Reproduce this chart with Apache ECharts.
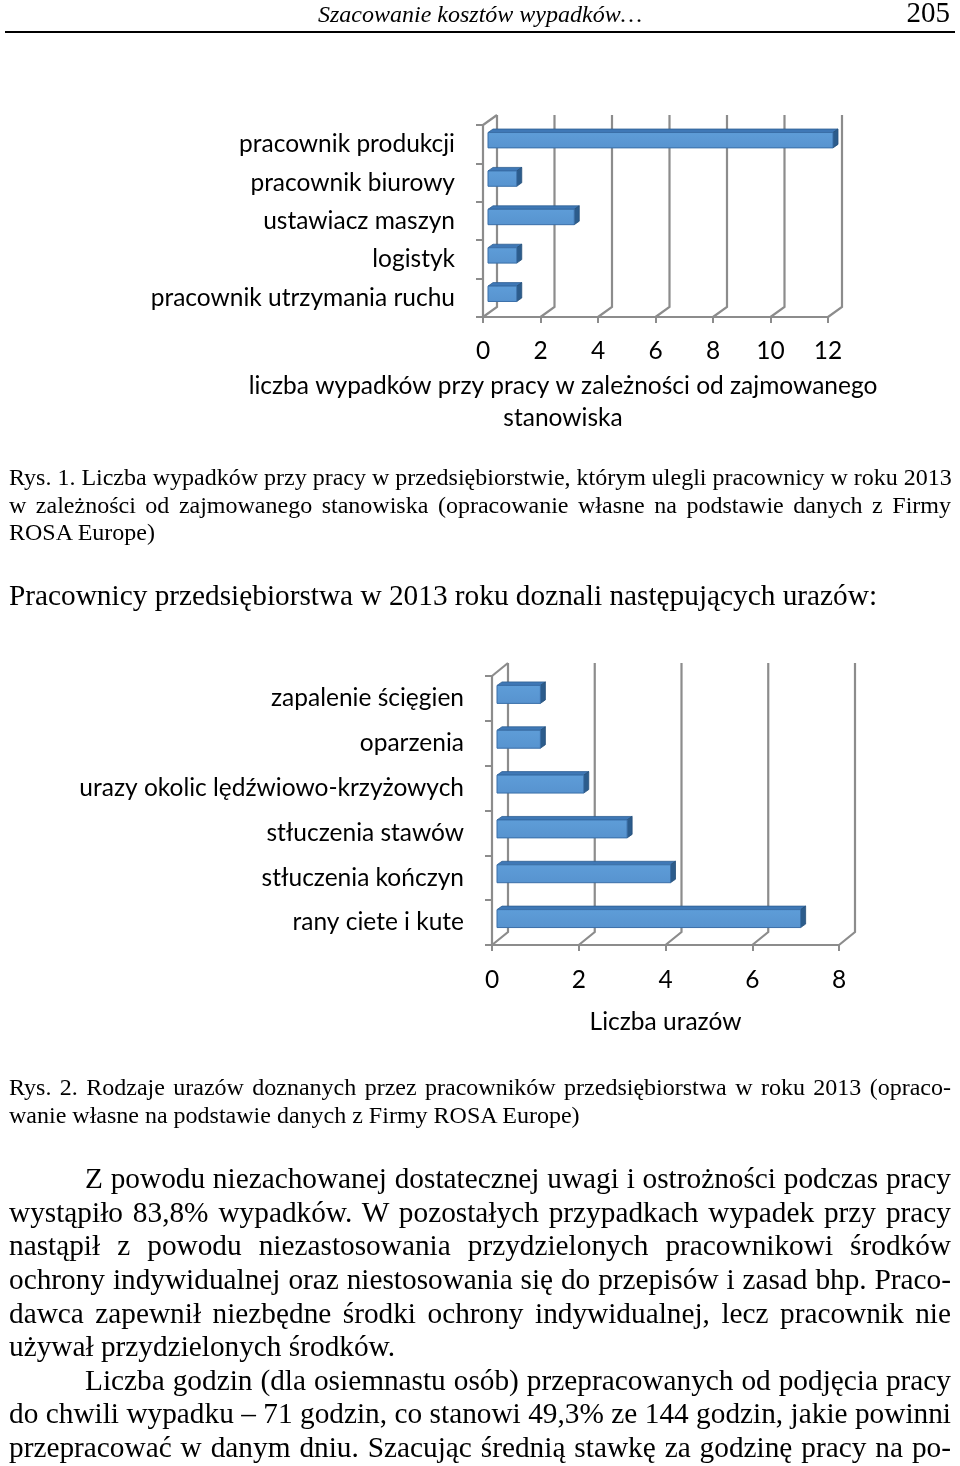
<!DOCTYPE html>
<html>
<head>
<meta charset="utf-8">
<script src="https://cdn.jsdelivr.net/npm/echarts@6/dist/echarts.min.js"></script>
<style>
html,body{margin:0;padding:0;background:#fff;}
#page{position:relative;width:960px;height:1466px;overflow:hidden;}
#chart{position:absolute;left:0;top:0;width:960px;height:1466px;}
#text{position:absolute;left:0;top:0;width:960px;height:1466px;pointer-events:none;font-family:"Liberation Serif","Times New Roman",serif;color:#000;}
.ln{position:absolute;left:9px;width:942px;white-space:nowrap;text-align:left;}
.j{text-align:justify;text-align-last:justify;}
.cap{font-size:24px;line-height:28px;}
.bd{font-size:29.3px;line-height:34px;}
.ind{left:85px;width:866px;}
</style>
</head>
<body>
<div id="page">
<div id="chart"></div>
<div id="text">
  <div style="position:absolute;left:0;width:960px;top:0;text-align:center;font-style:italic;font-size:24px;line-height:28px;">Szacowanie kosztów wypadków…</div>
  <div style="position:absolute;right:10px;top:-4px;font-size:29px;line-height:32px;">205</div>
  <div style="position:absolute;left:5px;width:950px;top:31px;height:2px;background:#000;"></div>

  <div class="ln cap j" style="top:463px;">Rys. 1. Liczba wypadków przy pracy w przedsiębiorstwie, którym ulegli pracownicy w roku 2013</div>
  <div class="ln cap j" style="top:491px;">w zależności od zajmowanego stanowiska (opracowanie własne na podstawie danych z Firmy</div>
  <div class="ln cap" style="top:518px;">ROSA Europe)</div>

  <div class="ln bd" style="top:578px;">Pracownicy przedsiębiorstwa w 2013 roku doznali następujących urazów:</div>

  <div class="ln cap j" style="top:1073px;">Rys. 2. Rodzaje urazów doznanych przez pracowników przedsiębiorstwa w roku 2013 (opraco-</div>
  <div class="ln cap" style="top:1101px;">wanie własne na podstawie danych z Firmy ROSA Europe)</div>

  <div class="ln bd j ind" style="top:1161px;">Z powodu niezachowanej dostatecznej uwagi i ostrożności podczas pracy</div>
  <div class="ln bd j" style="top:1195px;">wystąpiło 83,8% wypadków. W pozostałych przypadkach wypadek przy pracy</div>
  <div class="ln bd j" style="top:1228px;">nastąpił z powodu niezastosowania przydzielonych pracownikowi środków</div>
  <div class="ln bd j" style="top:1262px;">ochrony indywidualnej oraz niestosowania się do przepisów i zasad bhp. Praco-</div>
  <div class="ln bd j" style="top:1296px;">dawca zapewnił niezbędne środki ochrony indywidualnej, lecz pracownik nie</div>
  <div class="ln bd" style="top:1329px;">używał przydzielonych środków.</div>
  <div class="ln bd j ind" style="top:1363px;">Liczba godzin (dla osiemnastu osób) przepracowanych od podjęcia pracy</div>
  <div class="ln bd j" style="top:1396px;">do chwili wypadku – 71 godzin, co stanowi 49,3% ze 144 godzin, jakie powinni</div>
  <div class="ln bd j" style="top:1430px;">przepracować w danym dniu. Szacując średnią stawkę za godzinę pracy na po-</div>
</div>
</div>
<script>
// ---- data ----
const stanowiska = ['pracownik produkcji', 'pracownik biurowy', 'ustawiacz maszyn', 'logistyk', 'pracownik utrzymania ruchu'];
const wypadki = [12, 1, 3, 1, 1];
const ticks1 = [0, 2, 4, 6, 8, 10, 12];
const title1 = 'liczba wypadków przy pracy w zależności od zajmowanego\nstanowiska';

const urazy = ['zapalenie ścięgien', 'oparzenia', 'urazy okolic lędźwiowo-krzyżowych', 'stłuczenia stawów', 'stłuczenia kończyn', 'rany ciete i kute'];
const liczbaUrazow = [1, 1, 2, 3, 4, 7];
const ticks2 = [0, 2, 4, 6, 8];
const title2 = 'Liczba urazów';

// ---- styles ----
const FONT = 'Lato, "Open Sans", sans-serif';
const FS = 24.5;
const GRAY = '#8c8c8c';

function wallsRender(ticks, dx, dy) {
  return function (params, api) {
    const cs = params.coordSys;
    const bottom = cs.y + cs.height;
    const ch = [];
    const ls = { stroke: GRAY, lineWidth: 2.2, fill: 'none' };
    ticks.forEach(function (t) {
      const x = api.coord([t, 0])[0];
      ch.push({ type: 'polyline', shape: { points: [[x, bottom], [x + dx, bottom + dy], [x + dx, cs.y + dy]] }, style: ls });
    });
    ch.push({ type: 'line', shape: { x1: cs.x, y1: cs.y, x2: cs.x + dx, y2: cs.y + dy }, style: ls });
    return { type: 'group', children: ch, silent: true };
  };
}

function barRender(params, api) {
  const v = api.value(0), c = api.value(1);
  const p0 = api.coord([0, c]);
  const p1 = api.coord([v, c]);
  const band = api.size([0, 1])[1];
  const h = band * 0.4;
  const ox = 5, oy = -4, ddx = 5, ddy = -3.5;
  const x0 = p0[0] + ox, x1 = p1[0] + ox;
  const top = p0[1] + oy - h / 2, bot = p0[1] + oy + h / 2;
  return {
    type: 'group',
    children: [
      { type: 'polygon', shape: { points: [[x0, top], [x1, top], [x1 + ddx, top + ddy], [x0 + ddx, top + ddy]] },
        style: { fill: '#3f78b6', stroke: '#2f5f93', lineWidth: 0.8 } },
      { type: 'polygon', shape: { points: [[x1, top], [x1 + ddx, top + ddy], [x1 + ddx, bot + ddy], [x1, bot]] },
        style: { fill: '#2c5c8c', stroke: '#264f79', lineWidth: 0.8 } },
      { type: 'rect', shape: { x: x0, y: top, width: x1 - x0, height: h },
        style: { fill: new echarts.graphic.LinearGradient(0, 0, 0, 1, [{ offset: 0, color: '#5e9dd8' }, { offset: 1, color: '#5793cf' }]), stroke: '#3a6fa8', lineWidth: 1 } }
    ]
  };
}

const chart = echarts.init(document.getElementById('chart'));
const axisLabelStyle = { fontFamily: FONT, fontSize: FS, color: '#000' };

chart.setOption({
  animation: false,
  grid: [
    { left: 483, top: 125, width: 345, height: 192 },
    { left: 492, top: 676, width: 347, height: 269 }
  ],
  xAxis: [
    { gridIndex: 0, type: 'value', min: 0, max: 12, interval: 2,
      axisLine: { show: true, lineStyle: { color: GRAY, width: 2.2 } },
      axisTick: { show: true, length: 6, lineStyle: { color: GRAY, width: 2 } },
      splitLine: { show: false },
      axisLabel: Object.assign({ margin: 22 }, axisLabelStyle) },
    { gridIndex: 1, type: 'value', min: 0, max: 8, interval: 2,
      name: title2, nameLocation: 'middle', nameGap: 65,
      nameTextStyle: { fontFamily: FONT, fontSize: FS, color: '#000' },
      axisLine: { show: true, lineStyle: { color: GRAY, width: 2.2 } },
      axisTick: { show: true, length: 6, lineStyle: { color: GRAY, width: 2 } },
      splitLine: { show: false },
      axisLabel: Object.assign({ margin: 23 }, axisLabelStyle) }
  ],
  yAxis: [
    { gridIndex: 0, type: 'category', data: stanowiska, inverse: true,
      axisLine: { show: true, lineStyle: { color: GRAY, width: 2.2 } },
      axisTick: { show: true, length: 7, lineStyle: { color: GRAY, width: 2 } },
      axisLabel: Object.assign({ margin: 28 }, axisLabelStyle) },
    { gridIndex: 1, type: 'category', data: urazy, inverse: true,
      axisLine: { show: true, lineStyle: { color: GRAY, width: 2.2 } },
      axisTick: { show: true, length: 7, lineStyle: { color: GRAY, width: 2 } },
      axisLabel: Object.assign({ margin: 28 }, axisLabelStyle) }
  ],
  graphic: [
    { type: 'text', x: 563, y: 370, silent: true,
      style: { text: title1, fontFamily: FONT, fontSize: FS, lineHeight: 32, fill: '#000', align: 'center', verticalAlign: 'top' } }
  ],
  series: [
    { type: 'custom', xAxisIndex: 0, yAxisIndex: 0, z: 1, data: [[0, 0]], renderItem: wallsRender(ticks1, 14, -10), silent: true },
    { type: 'custom', xAxisIndex: 0, yAxisIndex: 0, z: 3, data: wypadki.map(function (v, i) { return [v, i]; }), encode: { x: 0, y: 1 }, renderItem: barRender },
    { type: 'custom', xAxisIndex: 1, yAxisIndex: 1, z: 1, data: [[0, 0]], renderItem: wallsRender(ticks2, 16, -13), silent: true },
    { type: 'custom', xAxisIndex: 1, yAxisIndex: 1, z: 3, data: liczbaUrazow.map(function (v, i) { return [v, i]; }), encode: { x: 0, y: 1 }, renderItem: barRender }
  ]
});
</script>
</body>
</html>
